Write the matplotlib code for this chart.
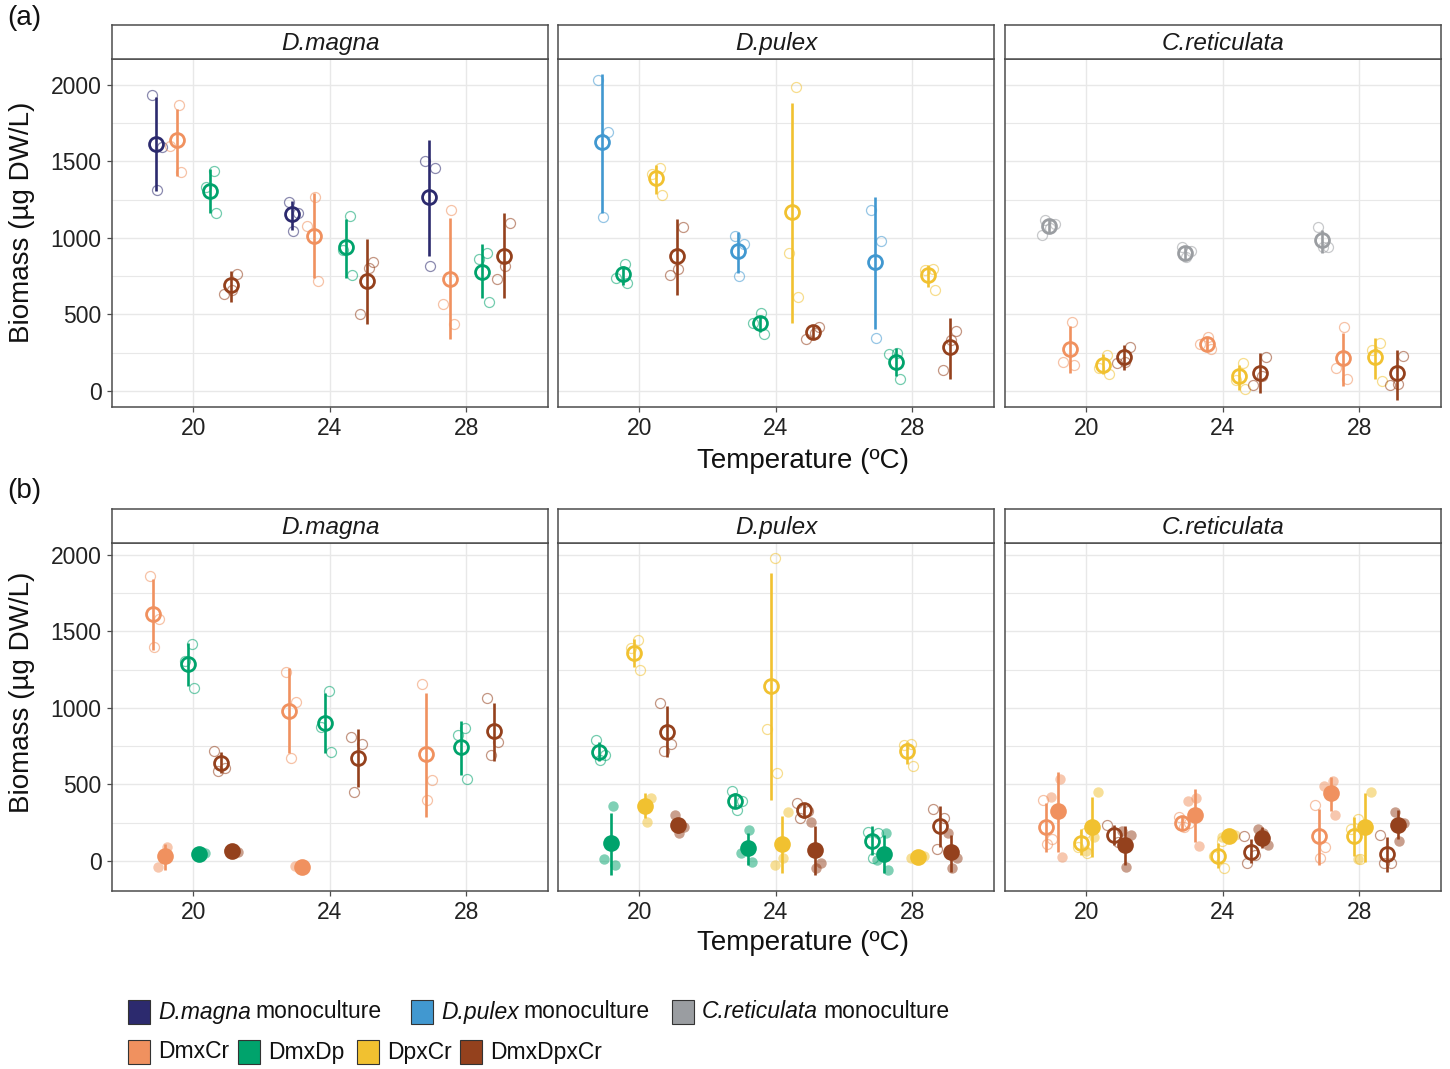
import numpy as np
import matplotlib
matplotlib.use("Agg")
import matplotlib.pyplot as plt
from matplotlib.patches import Rectangle

plt.rcParams.update({
    "font.family": ["Liberation Sans", "DejaVu Sans"],
})

nan = np.nan
W, H = 1450, 1069

TEMPS = [20, 24, 28]
SPECIES = ["D.magna", "D.pulex", "C.reticulata"]

COLORS = {"Dm": "#2c2a6e", "Dp": "#4198d0", "Cr": "#9a9da1",
          "DmxCr": "#f0915f", "DmxDp": "#00a36c", "DpxCr": "#f1c130",
          "DmxDpxCr": "#94411d"}

# ---------------------------------------------------------------------
# (a) total biomass, one facet per species
# ---------------------------------------------------------------------
A_MAG_GROUPS = ["Dm", "DmxCr", "DmxDp", "DmxDpxCr"]
A_MAG_MEAN = [[1615, 1155, 1265], [1640, 1015, 735], [1310, 940, 780], [690, 720, 885]]
A_MAG_LO = [[1305, 1055, 880], [1405, 740, 340], [1165, 740, 610], [580, 435, 605]]
A_MAG_HI = [[1920, 1240, 1640], [1845, 1295, 1130], [1450, 1125, 960], [785, 995, 1160]]
A_MAG_REPS = [
    [[1935, 1595, 1315], [1235, 1165, 1045], [1500, 1455, 820]],
    [[1870, 1600, 1430], [1265, 1080, 720], [1185, 570, 440]],
    [[1440, 1330, 1160], [1145, 920, 755], [905, 865, 580]],
    [[765, 660, 635], [845, 805, 505], [1100, 820, 730]],
]

A_PUL_GROUPS = ["Dp", "DmxDp", "DpxCr", "DmxDpxCr"]
A_PUL_MEAN = [[1625, 915, 840], [765, 445, 190], [1390, 1170, 755], [880, 385, 285]]
A_PUL_LO = [[1160, 770, 405], [690, 385, 100], [1290, 445, 680], [630, 340, 80]]
A_PUL_HI = [[2070, 1040, 1265], [820, 490, 280], [1475, 1885, 825], [1125, 425, 480]]
A_PUL_REPS = [
    [[2030, 1690, 1140], [1010, 960, 750], [1180, 980, 345]],
    [[830, 740, 705], [510, 445, 375], [245, 240, 75]],
    [[1460, 1415, 1280], [1985, 900, 615], [795, 790, 660]],
    [[1070, 800, 760], [415, 380, 340], [390, 330, 135]],
]

A_RET_GROUPS = ["Cr", "DmxCr", "DpxCr", "DmxDpxCr"]
A_RET_MEAN = [[1075, 905, 985], [275, 310, 215], [170, 100, 220], [225, 115, 115]]
A_RET_LO = [[1030, 860, 905], [120, 265, 35], [110, 5, 75], [135, -15, -60]]
A_RET_HI = [[1115, 950, 1055], [425, 350, 380], [240, 170, 345], [300, 245, 270]]
A_RET_REPS = [
    [[1120, 1090, 1065, 1020], [940, 915, 875], [1070, 940, 940]],
    [[450, 190, 170], [350, 310, 275], [415, 150, 75]],
    [[235, 150, 110], [180, 70, 10], [315, 270, 65]],
    [[290, 190, 180], [225, 100, 40], [230, 45, 40]],
]

# ---------------------------------------------------------------------
# (b) biomass within mixtures: open and filled estimates
# ---------------------------------------------------------------------
B_KIND = ["open", "filled", "open", "filled", "open", "filled"]

B_MAG_GROUPS = ["DmxCr", "DmxCr", "DmxDp", "DmxDp", "DmxDpxCr", "DmxDpxCr"]
B_MAG_MEAN = [[1614, 982, 697], [32, -37, nan], [1287, 904, 743],
              [45, nan, nan], [642, 675, 849], [65, nan, nan]]
B_MAG_LO = [[1379, 703, 289], [-59, nan, nan], [1146, 703, 562],
            [nan, nan, nan], [573, 481, 653], [nan, nan, nan]]
B_MAG_HI = [[1843, 1259, 1096], [111, nan, nan], [1427, 1096, 917],
            [nan, nan, nan], [714, 862, 1035], [nan, nan, nan]]
B_MAG_REPS = [
    [[1863, 1579, 1401], [1237, 1041, 671], [1154, 529, 398]],
    [[89, -42], [-42, -30], []],
    [[1418, 1307, 1133], [1113, 878, 714], [867, 823, 536]],
    [[50, 40], [], []],
    [[721, 610, 588], [808, 762, 453], [1063, 780, 693]],
    [[72, 61], [], []],
]

B_PUL_GROUPS = ["DmxDp", "DmxDp", "DpxCr", "DpxCr", "DmxDpxCr", "DmxDpxCr"]
B_PUL_MEAN = [[714, 394, 132], [119, 87, 43], [1362, 1144, 719],
              [361, 109, 24], [845, 333, 231], [235, 71, 56]]
B_PUL_LO = [[653, 344, 39], [-92, -27, -77], [1270, 398, 634],
            [279, -81, nan], [677, 283, 93], [180, -92, -70]]
B_PUL_HI = [[780, 442, 228], [316, 180, 170], [1449, 1880, 780],
            [442, 294, nan], [1013, 377, 361], [279, 228, 170]]
B_PUL_REPS = [
    [[791, 693, 660], [459, 394, 333], [191, 180, 17]],
    [[359, 13, -27], [202, 50, -5], [180, 6, -59]],
    [[1444, 1390, 1248], [1978, 863, 573], [764, 758, 623]],
    [[409, 257], [322, 21, -27], [32, 28, 20]],
    [[1035, 764, 719], [377, 329, 283], [337, 279, 76]],
    [[300, 224, 185], [257, -11, -44], [185, 17, -48]],
]

B_RET_GROUPS = ["DmxCr", "DmxCr", "DpxCr", "DpxCr", "DmxDpxCr", "DmxDpxCr"]
B_RET_MEAN = [[224, 250, 163], [329, 300, 442], [115, 32, 163],
              [224, 163, 224], [170, 61, 45], [104, 148, 235]]
B_RET_LO = [[61, 202, -27], [61, 126, 329], [39, -48, 32],
            [28, nan, -5], [104, -11, -70], [-27, 82, 141]]
B_RET_HI = [[377, 289, 337], [584, 468, 551], [207, 115, 289],
            [420, nan, 442], [235, 141, 159], [228, 224, 333]]
B_RET_REPS = [
    [[398, 141, 111], [289, 246, 224], [366, 93, 22]],
    [[533, 420, 28], [409, 394, 98], [525, 490, 300]],
    [[185, 93, 50], [132, 32, -48], [272, 207, 11]],
    [[448, 159, 67], [170, 160, 158], [453, 213, 11]],
    [[235, 126], [163, 39, -16], [170, -16, -14]],
    [[196, 170, -42], [207, 104, 180], [322, 246, 130]],
]

LEGEND_MONO = ["Dm", "Dp", "Cr"]
LEGEND_MONO_SPECIES = ["D.magna", "D.pulex", "C.reticulata"]
LEGEND_MIX = ["DmxCr", "DmxDp", "DpxCr", "DmxDpxCr"]

# layout / style
OFF_A = [-1.1, -0.47, 0.48, 1.1]
OFF_B = [-1.18, -0.82, -0.15, 0.18, 0.82, 1.14]
JIT = [-0.1, 0.18, 0.04, -0.2, 0.12]
PANEL_X = [(112, 548), (558, 994), (1005, 1441)]
ROWS = {"a": (59, 407, (-105, 2170)), "b": (543, 891, (-196, 2078))}
STRIP_H = 34
BORDER = "#4d4d4d"
GRID = "#e8e8e8"


def draw_panel(ax, groups, kinds, offsets, mean, lo, hi, reps):
    # replicates first
    for i, g in enumerate(groups):
        col = COLORS[g]
        filled = kinds[i] == "filled"
        for j, t in enumerate(TEMPS):
            r = reps[i][j]
            if not r:
                continue
            x0 = t + offsets[i]
            xs = [x0 + JIT[(i * 2 + k) % len(JIT)] for k in range(len(r))]
            if filled:
                ax.plot(xs, r, "o", ls="none", ms=7.5, mfc=col, mec="none",
                        alpha=0.5, zorder=3)
            else:
                ax.plot(xs, r, "o", ls="none", ms=7.2, mfc="none", mec=col,
                        mew=0.9, alpha=0.55, zorder=3)
    # error bars and means
    for i, g in enumerate(groups):
        col = COLORS[g]
        filled = kinds[i] == "filled"
        for j, t in enumerate(TEMPS):
            x0 = t + offsets[i]
            if not np.isnan(lo[i][j]):
                ax.vlines(x0, lo[i][j], hi[i][j], color=col, lw=1.9, zorder=4)
            if np.isnan(mean[i][j]):
                continue
            if filled:
                ax.plot(x0, mean[i][j], "o", ms=12, mfc=col, mec=col, mew=0,
                        zorder=5)
            else:
                ax.plot(x0, mean[i][j], "o", ms=10, mfc="none", mec=col,
                        mew=2.0, zorder=5)


def style_axes(ax, ylim, show_y):
    ax.set_xlim(17.62, 30.4)
    ax.set_ylim(*ylim)
    ax.set_xticks(TEMPS)
    ax.set_yticks([0, 500, 1000, 1500, 2000])
    ax.set_yticks([250, 750, 1250, 1750], minor=True)
    ax.grid(True, which="major", color=GRID, lw=1.0, zorder=0)
    ax.grid(True, which="minor", axis="y", color=GRID, lw=0.8, zorder=0)
    ax.set_axisbelow(True)
    for s in ax.spines.values():
        s.set_color(BORDER)
        s.set_linewidth(1.1)
    ax.tick_params(which="major", length=3.5, width=0.9, color=BORDER,
                   labelsize=16.5, labelcolor="#222222", pad=4)
    ax.tick_params(which="minor", length=0)
    if not show_y:
        ax.tick_params(axis="y", labelleft=False, length=0)


def add_strip(fig, x0, x1, top, label):
    sax = fig.add_axes([x0 / W, 1 - top / H, (x1 - x0) / W, STRIP_H / H])
    sax.set_xticks([]); sax.set_yticks([])
    for s in sax.spines.values():
        s.set_color(BORDER)
        s.set_linewidth(1.1)
    sax.text(0.5, 0.47, label, ha="center", va="center", fontsize=17.5,
             style="italic", color="#1a1a1a", transform=sax.transAxes)


fig = plt.figure(figsize=(W / 100, H / 100), dpi=100)
fig.patch.set_facecolor("white")

ROW_DATA = {
    "a": [(A_MAG_GROUPS, ["open"] * 4, A_MAG_MEAN, A_MAG_LO, A_MAG_HI, A_MAG_REPS),
          (A_PUL_GROUPS, ["open"] * 4, A_PUL_MEAN, A_PUL_LO, A_PUL_HI, A_PUL_REPS),
          (A_RET_GROUPS, ["open"] * 4, A_RET_MEAN, A_RET_LO, A_RET_HI, A_RET_REPS)],
    "b": [(B_MAG_GROUPS, B_KIND, B_MAG_MEAN, B_MAG_LO, B_MAG_HI, B_MAG_REPS),
          (B_PUL_GROUPS, B_KIND, B_PUL_MEAN, B_PUL_LO, B_PUL_HI, B_PUL_REPS),
          (B_RET_GROUPS, B_KIND, B_RET_MEAN, B_RET_LO, B_RET_HI, B_RET_REPS)],
}

for row, (top, bot, ylim) in ROWS.items():
    offs = OFF_A if row == "a" else OFF_B
    for k, (x0, x1) in enumerate(PANEL_X):
        ax = fig.add_axes([x0 / W, 1 - bot / H, (x1 - x0) / W, (bot - top) / H])
        groups, kinds, mean, lo, hi, reps = ROW_DATA[row][k]
        draw_panel(ax, groups, kinds, offs, mean, lo, hi, reps)
        style_axes(ax, ylim, show_y=(k == 0))
        add_strip(fig, x0, x1, top, SPECIES[k])

# axis titles and panel tags
for row, ytitle, yx, ytag in [("a", 222, 461, 18), ("b", 692, 943, 491)]:
    fig.text(22 / W, 1 - ytitle / H, "Biomass (µg DW/L)", rotation=90,
             ha="center", va="center", fontsize=20, color="#111111")
    fig.text(803 / W, 1 - yx / H, "Temperature (ºC)", ha="center",
             va="center", fontsize=20, color="#111111")
    fig.text(7 / W, 1 - ytag / H, f"({row})", ha="left", va="center",
             fontsize=20, color="#111111")

# legend, two rows
SQ_W, SQ_H = 22, 24
row1_sq = [128, 411, 672]
row2_sq = [128, 238, 357, 460]
renderer = fig.canvas.get_renderer()
for key, sp, sx in zip(LEGEND_MONO, LEGEND_MONO_SPECIES, row1_sq):
    fig.patches.append(Rectangle((sx / W, 1 - (1012 + SQ_H / 2) / H), SQ_W / W,
                                 SQ_H / H, transform=fig.transFigure,
                                 fc=COLORS[key], ec="#333333", lw=0.8))
    t = fig.text((sx + 30) / W, 1 - 1012 / H, sp, ha="left", va="center",
                 fontsize=16.5, style="italic", color="#111111")
    bb = t.get_window_extent(renderer)
    fig.text((bb.x1 + 5) / W, 1 - 1012 / H, "monoculture", ha="left",
             va="center", fontsize=16.5, color="#111111")
for key, sx in zip(LEGEND_MIX, row2_sq):
    fig.patches.append(Rectangle((sx / W, 1 - (1052 + SQ_H / 2) / H), SQ_W / W,
                                 SQ_H / H, transform=fig.transFigure,
                                 fc=COLORS[key], ec="#333333", lw=0.8))
    fig.text((sx + 30) / W, 1 - 1052 / H, key, ha="left", va="center",
             fontsize=16.5, color="#111111")

fig.savefig("out.png", dpi=100, facecolor="white")
